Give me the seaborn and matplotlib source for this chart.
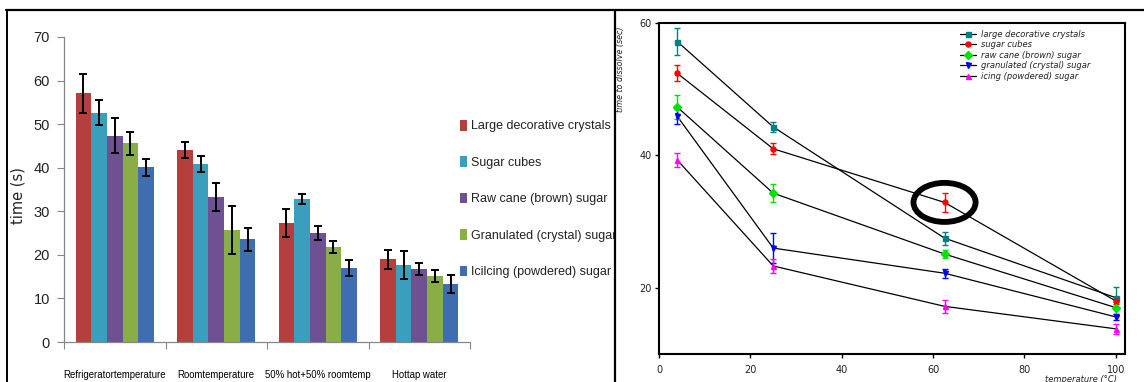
import numpy as np
import pandas as pd
import matplotlib
matplotlib.use("Agg")
import matplotlib.pyplot as plt
from matplotlib.lines import Line2D
from matplotlib.patches import Patch, Ellipse
import seaborn as sns

# ---- bar chart data: dissolving time by water condition ----
conditions = ["Refrigeratortemperature", "Roomtemperature",
              "50% hot+50% roomtemp", "Hottap water"]
sugars = ["Large decorative crystals", "Sugar cubes", "Raw cane (brown) sugar",
          "Granulated (crystal) sugar", "Icilcing (powdered) sugar"]
large_crystals = [57.1, 44.0, 27.3, 19.0]
sugar_cubes = [52.6, 40.9, 32.8, 17.7]
raw_cane = [47.3, 33.3, 25.0, 16.8]
granulated = [45.6, 25.7, 21.8, 15.1]
icing = [40.1, 23.6, 17.0, 13.3]
large_crystals_err = [4.5, 1.8, 3.2, 2.2]
sugar_cubes_err = [2.9, 1.9, 1.1, 3.3]
raw_cane_err = [4.0, 3.2, 1.6, 1.4]
granulated_err = [2.7, 5.4, 1.3, 1.4]
icing_err = [2.0, 2.6, 1.8, 2.0]
bar_colors = ["#B43F3C", "#3A9EBD", "#6E5193", "#8AAE46", "#3E6DB2"]

# ---- line chart data: dissolving time vs temperature ----
temperature = [4, 25, 62.5, 100]
line_labels = ["large decorative crystals", "sugar cubes", "raw cane (brown) sugar",
               "granulated (crystal) sugar", "icing (powdered) sugar"]
t_large = [57.2, 44.3, 27.5, 18.5]
t_cubes = [52.4, 41.0, 32.9, 18.0]
t_raw = [47.3, 34.3, 25.1, 17.0]
t_gran = [45.9, 26.0, 22.2, 15.6]
t_icing = [39.3, 23.3, 17.2, 13.8]
e_large = [2.0, 0.8, 1.0, 1.6]
e_cubes = [1.2, 0.8, 1.45, 0.5]
e_raw = [1.8, 1.4, 0.65, 0.9]
e_gran = [1.1, 2.3, 0.65, 0.5]
e_icing = [1.0, 1.1, 0.95, 0.8]
line_colors = ["#008080", "#FF0000", "#00E000", "#0000FF", "#FF00FF"]
line_markers = ["s", "o", "D", "v", "^"]

sns.set_theme(style="white")
plt.rcParams["font.family"] = ["DejaVu Sans"]
narrow = ["Liberation Sans Narrow", "Liberation Sans", "DejaVu Sans"]

W, H = 1144, 382
fig = plt.figure(figsize=(W / 100, H / 100), dpi=100)
fig.patch.set_facecolor("white")


def fx(px):
    return px / W


def fy(py):
    return 1 - py / H


# ================= left: grouped bar chart =================
ax1 = fig.add_axes([fx(64), fy(342), fx(470 - 64), (342 - 37) / H])
ax1.set_zorder(0)
bar_series = [large_crystals, sugar_cubes, raw_cane, granulated, icing]
bar_errs = [large_crystals_err, sugar_cubes_err, raw_cane_err, granulated_err, icing_err]
df = pd.DataFrame({
    "condition": np.repeat([conditions], len(sugars), axis=0).ravel(),
    "sugar": np.repeat(sugars, len(conditions)),
    "time": np.concatenate(bar_series),
})
sns.barplot(data=df, x="condition", y="time", hue="sugar", order=conditions,
            hue_order=sugars, palette=bar_colors, width=0.77, errorbar=None,
            saturation=1, linewidth=0, legend=False, ax=ax1)
for container, errs in zip(ax1.containers, bar_errs):
    xs = [p.get_x() + p.get_width() / 2 for p in container]
    ys = [p.get_height() for p in container]
    ax1.errorbar(xs, ys, yerr=errs, fmt="none", ecolor="black", elinewidth=1.4,
                 capsize=2.6, capthick=1.4, zorder=5)

ax1.set_xlim(-0.5, len(conditions) - 0.5)
ax1.set_ylim(0, 70)
ax1.set_yticks(range(0, 71, 10))
ax1.set_xticks(range(len(conditions)))
ax1.set_xticklabels(conditions, fontfamily=narrow, fontsize=6.9, color="black")
ax1.set_xticks(np.arange(-0.5, len(conditions), 1.0), minor=True)
ax1.tick_params(axis="x", which="major", length=0, pad=20)
ax1.tick_params(axis="x", which="minor", length=5, width=0.8, color="#868686",
                direction="out", bottom=True)
ax1.tick_params(axis="y", length=5, width=0.8, color="#868686", direction="out",
                left=True, pad=5)
for lab in ax1.get_yticklabels():
    lab.set_fontfamily(narrow)
    lab.set_fontsize(10.5)
    lab.set_color("#222222")
ax1.set_xlabel("")
ax1.set_ylabel("time (s)", fontsize=10.5, color="#222222")
ax1.yaxis.set_label_coords(-0.095, 0.48)
for side in ["top", "right"]:
    ax1.spines[side].set_visible(False)
for side in ["left", "bottom"]:
    ax1.spines[side].set_color("#868686")
    ax1.spines[side].set_linewidth(0.9)

bar_handles = [Patch(facecolor=c, edgecolor="none") for c in bar_colors]
leg1 = ax1.legend(bar_handles, sugars, loc="center left",
                  bbox_to_anchor=(fx(460), fy(199)), bbox_transform=fig.transFigure,
                  frameon=False, borderpad=0, borderaxespad=0,
                  handlelength=0.55, handleheight=0.95, handletextpad=0.35,
                  labelspacing=1.9, prop={"family": narrow, "size": 9.0})
for t in leg1.get_texts():
    t.set_color("#222222")

# white panel on the right that hides anything spilling over the divider
ax_bg = fig.add_axes([fx(616), 0, 1 - fx(616), fy(10)])
ax_bg.set_zorder(1)
ax_bg.set_facecolor("white")
ax_bg.set_xticks([])
ax_bg.set_yticks([])
for s in ax_bg.spines.values():
    s.set_visible(False)

# ================= right: line chart with error bars =================
ax2 = fig.add_axes([fx(659), fy(354), fx(1125 - 659), (354 - 23) / H])
ax2.set_zorder(2)
line_series = [t_large, t_cubes, t_raw, t_gran, t_icing]
line_errs = [e_large, e_cubes, e_raw, e_gran, e_icing]
for ys, es, c, m in zip(line_series, line_errs, line_colors, line_markers):
    sns.lineplot(x=temperature, y=ys, color="black", linewidth=0.9, ax=ax2,
                 zorder=2)
    ax2.errorbar(temperature, ys, yerr=es, fmt=m, color=c, markersize=3.6,
                 elinewidth=1.0, capsize=2.2, capthick=1.0, zorder=3)

# highlight ring around the sugar-cube reading at 62.5 °C
ring = Ellipse((temperature[2], t_cubes[2]), width=13.6, height=5.9,
               fill=False, edgecolor="black", linewidth=4.2, zorder=6)
ax2.add_patch(ring)

ax2.set_xlim(0, 102)
ax2.set_ylim(10, 60)
ax2.set_xticks(range(0, 101, 20))
ax2.set_yticks([20, 40, 60])
ax2.tick_params(axis="both", length=3, width=1.0, color="black", direction="out",
                left=True, bottom=True, labelsize=7, pad=2)
for lab in ax2.get_xticklabels() + ax2.get_yticklabels():
    lab.set_color("#222222")
ax2.tick_params(axis="x", pad=5)
for s in ax2.spines.values():
    s.set_visible(True)
    s.set_color("black")
    s.set_linewidth(1.5)
ax2.set_ylabel("time to dissolve (sec)", fontsize=5.8, style="italic",
               color="#222222")
ax2.yaxis.set_label_coords(-0.072, 0.86)
ax2.set_xlabel("temperature (°C)", fontsize=6, style="italic", color="#222222")
ax2.xaxis.set_label_coords(0.905, -0.063)

line_handles = [Line2D([0], [0], color="black", linewidth=0.9, marker=m,
                       markerfacecolor=c, markeredgecolor=c, markersize=3.6)
                for c, m in zip(line_colors, line_markers)]
leg2 = ax2.legend(line_handles, line_labels, loc="upper left",
                  bbox_to_anchor=(0.645, 0.98), frameon=False, borderpad=0,
                  borderaxespad=0, handlelength=2.0, handletextpad=0.6,
                  labelspacing=0.18, prop={"size": 6, "style": "italic"})
for t in leg2.get_texts():
    t.set_color("#222222")

# ================= panel frame lines =================
frame_kw = dict(color="black", transform=fig.transFigure, zorder=20)
fig.add_artist(Line2D([fx(6), 1], [fy(9.5), fy(9.5)], linewidth=1.6, **frame_kw))
fig.add_artist(Line2D([fx(6.5), fx(6.5)], [0, fy(9.5)], linewidth=1.4, **frame_kw))
fig.add_artist(Line2D([fx(615), fx(615)], [0, fy(9.5)], linewidth=1.6, **frame_kw))

fig.savefig("out.png", dpi=100, facecolor="white")
